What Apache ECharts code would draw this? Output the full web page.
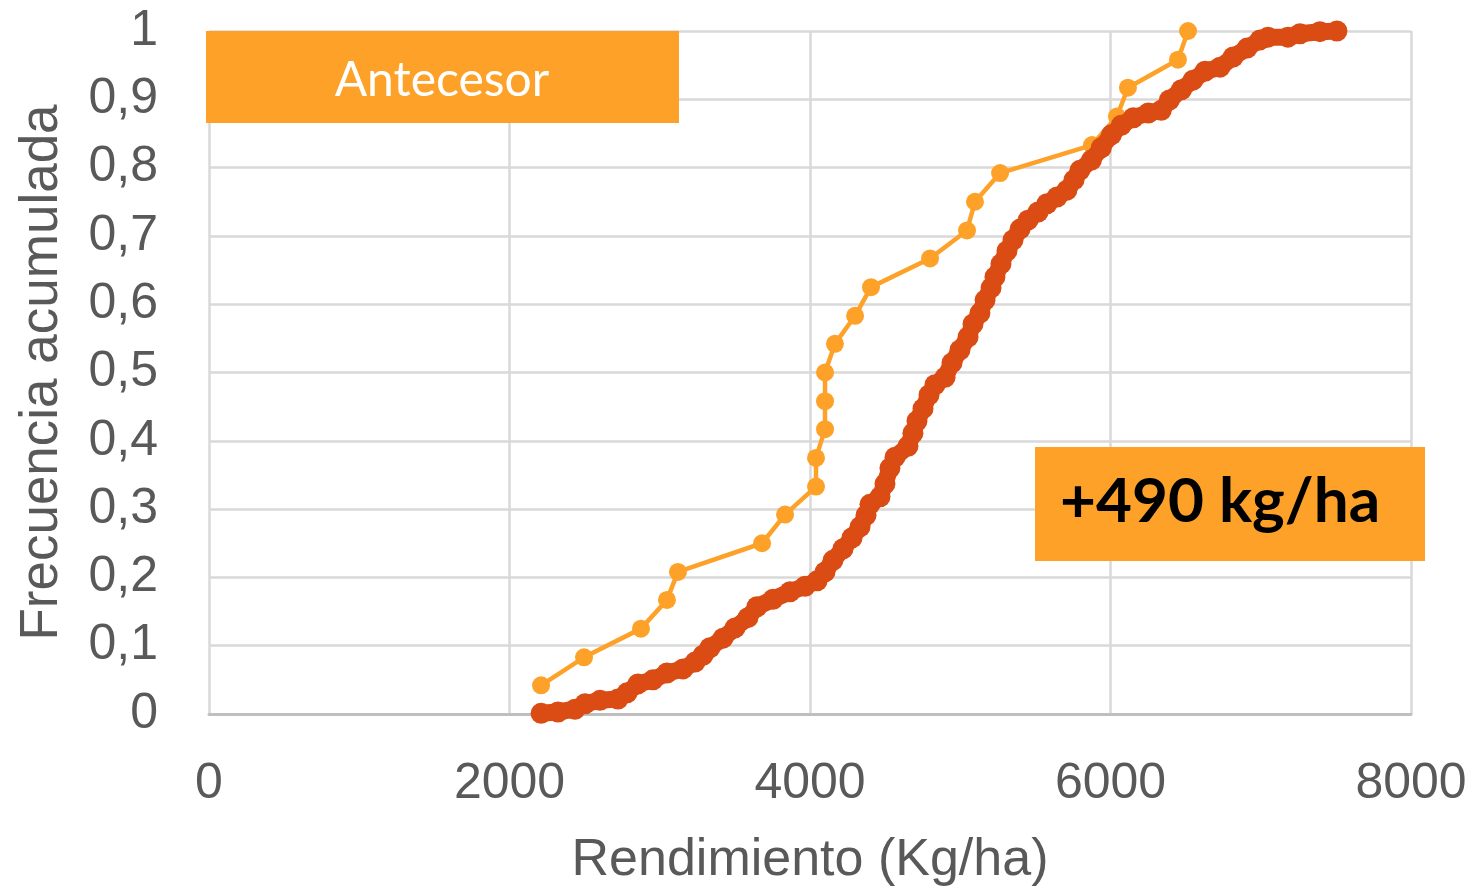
<!DOCTYPE html>
<html>
<head>
<meta charset="utf-8">
<title>Frecuencia acumulada</title>
<script src="https://cdn.jsdelivr.net/npm/echarts@6.0.0/dist/echarts.min.js"></script>
<style>
  html, body { margin: 0; padding: 0; background: #fff; }
  #chart { width: 1473px; height: 888px; }
</style>
</head>
<body>
<div id="chart"></div>
<script>
// axis ticks
const xTicks = [0, 2000, 4000, 6000, 8000];
const yTicks = [0, 0.1, 0.2, 0.3, 0.4, 0.5, 0.6, 0.7, 0.8, 0.9, 1];

// Antecesor (light orange): rendimiento and frecuencia acumulada
const antecesorX = [2210, 2496, 2875, 3048, 3121, 3681, 3834, 4040, 4040, 4100, 4100, 4100,
  4166, 4300, 4406, 4799, 5045, 5098, 5265, 5877, 6043, 6116, 6449, 6516];
const antecesorY = [0.042, 0.083, 0.125, 0.167, 0.208, 0.25, 0.292, 0.333, 0.375, 0.417, 0.458, 0.5,
  0.542, 0.583, 0.625, 0.667, 0.708, 0.75, 0.792, 0.833, 0.875, 0.917, 0.958, 1];

// other treatment (dark orange)
const otroX = [2210, 2323, 2436, 2503, 2602, 2722, 2782, 2855, 2955, 3048, 3155, 3235, 3288, 3334,
  3421, 3501, 3587, 3647, 3754, 3867, 3967, 4047, 4100, 4153, 4220, 4280, 4333, 4373, 4399, 4466,
  4499, 4532, 4566, 4652, 4685, 4712, 4752, 4792, 4832, 4899, 4945, 4998, 5052, 5085, 5131, 5165,
  5205, 5231, 5271, 5311, 5351, 5398, 5451, 5518, 5577, 5644, 5710, 5757, 5796, 5873, 5939, 6006,
  6072, 6152, 6252, 6338, 6392, 6472, 6549, 6629, 6729, 6816, 6909, 6995, 7048, 7181, 7261, 7394, 7507];
const otroY = [0.001, 0.003, 0.007, 0.015, 0.020, 0.022, 0.031, 0.044, 0.050, 0.060, 0.066, 0.076,
  0.086, 0.097, 0.111, 0.126, 0.141, 0.157, 0.168, 0.179, 0.187, 0.195, 0.208, 0.225, 0.242, 0.258,
  0.274, 0.291, 0.307, 0.318, 0.337, 0.360, 0.376, 0.392, 0.411, 0.429, 0.447, 0.467, 0.482, 0.493,
  0.514, 0.533, 0.552, 0.571, 0.587, 0.606, 0.624, 0.640, 0.659, 0.678, 0.694, 0.710, 0.723, 0.735,
  0.747, 0.757, 0.767, 0.782, 0.796, 0.811, 0.829, 0.848, 0.862, 0.873, 0.880, 0.884, 0.899, 0.914,
  0.928, 0.941, 0.947, 0.962, 0.975, 0.987, 0.991, 0.991, 0.996, 0.999, 1.000];

const LIGHT = '#FDA128';
const DARK = '#DA4C13';
const TEXT = '#595959';

const chart = echarts.init(document.getElementById('chart'));

const option = {
  animation: false,
  backgroundColor: '#fff',
  grid: {
    left: 209,
    right: 62,
    top: 31,
    bottom: 174,
    containLabel: false,
    outerBoundsMode: 'none'
  },
  xAxis: {
    type: 'value',
    min: xTicks[0],
    max: xTicks[xTicks.length - 1],
    interval: xTicks[1] - xTicks[0],
    name: 'Rendimiento (Kg/ha)',
    nameLocation: 'middle',
    nameGap: 121,
    nameTextStyle: { fontFamily: 'Liberation Sans', fontSize: 52, color: TEXT },
    axisLine: { show: true, lineStyle: { color: '#BFBFBF', width: 3 } },
    axisTick: { show: false },
    axisLabel: {
      fontFamily: 'Liberation Sans',
      fontSize: 50,
      color: TEXT,
      margin: 45,
      formatter: function (v) { return String(v); }
    },
    splitLine: { show: true, lineStyle: { color: '#D9D9D9', width: 2.5 } }
  },
  yAxis: {
    type: 'value',
    min: yTicks[0],
    max: yTicks[yTicks.length - 1],
    interval: 0.1,
    name: 'Frecuencia acumulada',
    nameLocation: 'middle',
    nameRotate: 90,
    nameGap: 140,
    nameTextStyle: { fontFamily: 'Liberation Sans', fontSize: 53, color: TEXT },
    axisLine: { show: false },
    axisTick: { show: false },
    axisLabel: {
      fontFamily: 'Liberation Sans',
      fontSize: 50,
      color: TEXT,
      margin: 51,
      formatter: function (v) {
        return String(Math.round(v * 10) / 10).replace('.', ',');
      }
    },
    splitLine: { show: true, lineStyle: { color: '#D9D9D9', width: 2.5 } }
  },
  series: [
    {
      name: 'Antecesor',
      type: 'line',
      data: antecesorX.map((x, i) => [x, antecesorY[i]]),
      symbol: 'circle',
      symbolSize: 18,
      lineStyle: { color: LIGHT, width: 4.5 },
      itemStyle: { color: LIGHT },
      z: 2
    },
    {
      name: 'Otro',
      type: 'line',
      data: otroX.map((x, i) => [x, otroY[i]]),
      symbol: 'circle',
      symbolSize: 21,
      lineStyle: { color: DARK, width: 17, cap: 'round', join: 'round' },
      itemStyle: { color: DARK },
      z: 3
    }
  ],
  graphic: [
    // boxes sit on top of the grid lines
    {
      type: 'rect',
      zlevel: 1,
      z: 100,
      shape: { x: 206, y: 31, width: 473, height: 92 },
      style: { fill: LIGHT }
    },
    {
      type: 'text',
      zlevel: 1,
      z: 101,
      x: 442,
      y: 81,
      style: {
        text: 'Antecesor',
        fill: '#fff',
        font: '48px Lato',
        textAlign: 'center',
        textVerticalAlign: 'middle'
      }
    },
    {
      type: 'rect',
      zlevel: 1,
      z: 100,
      shape: { x: 1035, y: 447, width: 390, height: 114 },
      style: { fill: LIGHT }
    },
    {
      type: 'text',
      zlevel: 1,
      z: 101,
      x: 1060,
      y: 502,
      style: {
        text: '+490 kg/ha',
        fill: '#000',
        font: 'bold 62px Lato',
        textAlign: 'left',
        textVerticalAlign: 'middle'
      }
    }
  ]
};

chart.setOption(option);
</script>
</body>
</html>
